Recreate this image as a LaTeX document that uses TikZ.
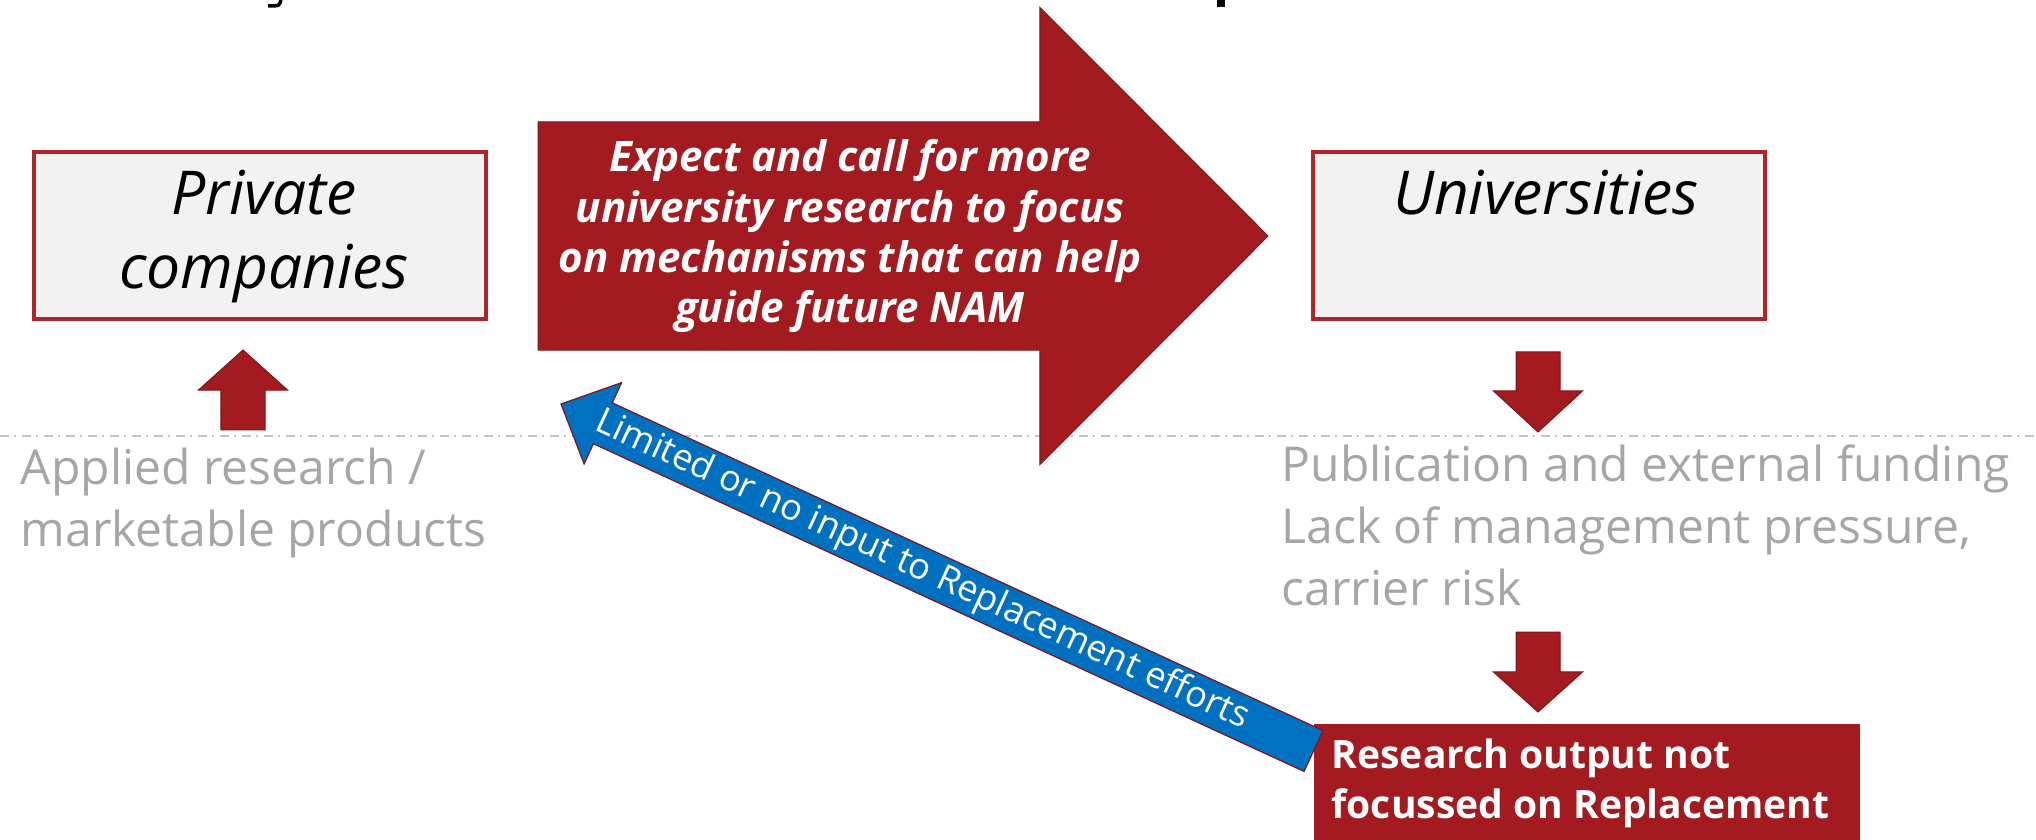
\documentclass[tikz,border=0pt]{standalone}
\usepackage{fontspec}
\setmainfont{Open Sans}
\usetikzlibrary{calc}

\definecolor{namred}{HTML}{A31B21}
\definecolor{namredline}{HTML}{7F1418}
\definecolor{boxred}{HTML}{B0252B}
\definecolor{boxgray}{HTML}{F2F2F2}
\definecolor{notegray}{HTML}{A6A6A6}
\definecolor{inputblue}{HTML}{0070C0}
\definecolor{rulegray}{HTML}{C4C4C4}

\tikzset{
  % block arrow: shaft width, head width, head length
  blockarrow/.style n args={3}{to path={
    let \p1=(\tikztostart), \p2=(\tikztotarget),
        \n1={atan2(\y2-\y1,\x2-\x1)},
        \n2={veclen(\x2-\x1,\y2-\y1)-#3} in
    ($(\p1)+(\n1+90:#1/2)$)
    -- ($(\p1)+(\n1:\n2)+(\n1+90:#1/2)$)
    -- ($(\p1)+(\n1:\n2)+(\n1+90:#2/2)$)
    -- (\p2)
    -- ($(\p1)+(\n1:\n2)+(\n1-90:#2/2)$)
    -- ($(\p1)+(\n1:\n2)+(\n1-90:#1/2)$)
    -- ($(\p1)+(\n1-90:#1/2)$) -- cycle}},
  redarrow/.style={fill=namred, draw=namredline, line width=0.01cm},
  actorbox/.style={draw=boxred, line width=0.04cm, fill=boxgray,
    minimum width=4.52cm, minimum height=1.67cm, inner sep=0},
  actorname/.style={font=\fontsize{17.2}{21.05}\selectfont\itshape,
    align=center, inner sep=0},
  notetext/.style={text=notegray, font=\fontsize{13.66}{17.64}\selectfont,
    align=left, inner sep=0},
}

\begin{document}
\begin{tikzpicture}[x=0.01cm, y=-0.01cm]
  \useasboundingbox (0,0) rectangle (2036,840);

  % dash-dot rule
  \draw[rulegray, line width=0.012cm,
    dash pattern=on 0.09cm off 0.05cm on 0.02cm off 0.06cm] (0,436) -- (2036,436);

  % bits of the heading cut off by the top edge
  \fill (1217,0) rectangle (1225,7);
  \draw[line width=0.035cm] (281,-2) .. controls (280,6) .. (268,6);

  % the two actors
  \node[actorbox] (priv) at (260,235.5) {};
  \node[actorname, anchor=north] (privname) at (264,169) {Private\\companies};
  \node[actorbox] (univ) at (1539,235.5) {};
  \node[actorname, anchor=north] (univname) at (1546,169) {Universities};

  % drivers
  \node[notetext, anchor=north west] (appl) at (20,447)
    {Applied research /\\marketable products};
  \node[notetext, anchor=north west] (pub) at (1281,444)
    {Publication and external funding\\Lack of management pressure,\\carrier risk};

  % outcome
  \node[fill=namred, minimum width=5.46cm, minimum height=1.4cm,
    anchor=north west, inner sep=0] (res) at (1313,723) {};
  \node[anchor=north west, text=white, inner sep=0, align=left,
    font=\fontsize{11.1}{14.23}\selectfont\bfseries] (restext) at (1331,738)
    {Research output not\\focussed on Replacement};

  % demand from the companies
  \coordinate (expfoot) at (538,236);
  \coordinate (exptip) at (1268,236);
  \draw[redarrow] (expfoot) to[blockarrow={2.28cm}{4.57cm}{2.28cm}] (exptip);
  \node[text=white, inner sep=0, align=center,
    font=\fontsize{11.95}{14.23}\selectfont\bfseries\itshape] (expect) at (850,236)
    {Expect and call for more\\university research to focus\\on mechanisms that can help\\guide future NAM};

  % small arrows
  \coordinate (applup) at (243,430);
  \coordinate (privin) at (243,350);
  \coordinate (univout) at (1538,352);
  \coordinate (pubin) at (1538,432);
  \coordinate (pubout) at (1538,632);
  \coordinate (resin) at (1538,712);
  \draw[redarrow] (applup) to[blockarrow={0.44cm}{0.89cm}{0.4cm}] (privin);
  \draw[redarrow] (univout) to[blockarrow={0.44cm}{0.89cm}{0.41cm}] (pubin);
  \draw[redarrow] (pubout) to[blockarrow={0.44cm}{0.89cm}{0.4cm}] (resin);

  % feedback
  \coordinate (limfoot) at (1313.5,751);
  \coordinate (limtip) at (561,404);
  \draw[fill=inputblue, draw=namredline, line width=0.012cm]
    (limfoot) to[blockarrow={0.45cm}{0.895cm}{0.46cm}] (limtip);
  \path (limfoot) -- node[pos=0.52, sloped, text=white, inner sep=0,
    font=\fontsize{10.24}{12}\selectfont] (limtext)
    {Limited or no input to Replacement efforts} (limtip);
\end{tikzpicture}
\end{document}
